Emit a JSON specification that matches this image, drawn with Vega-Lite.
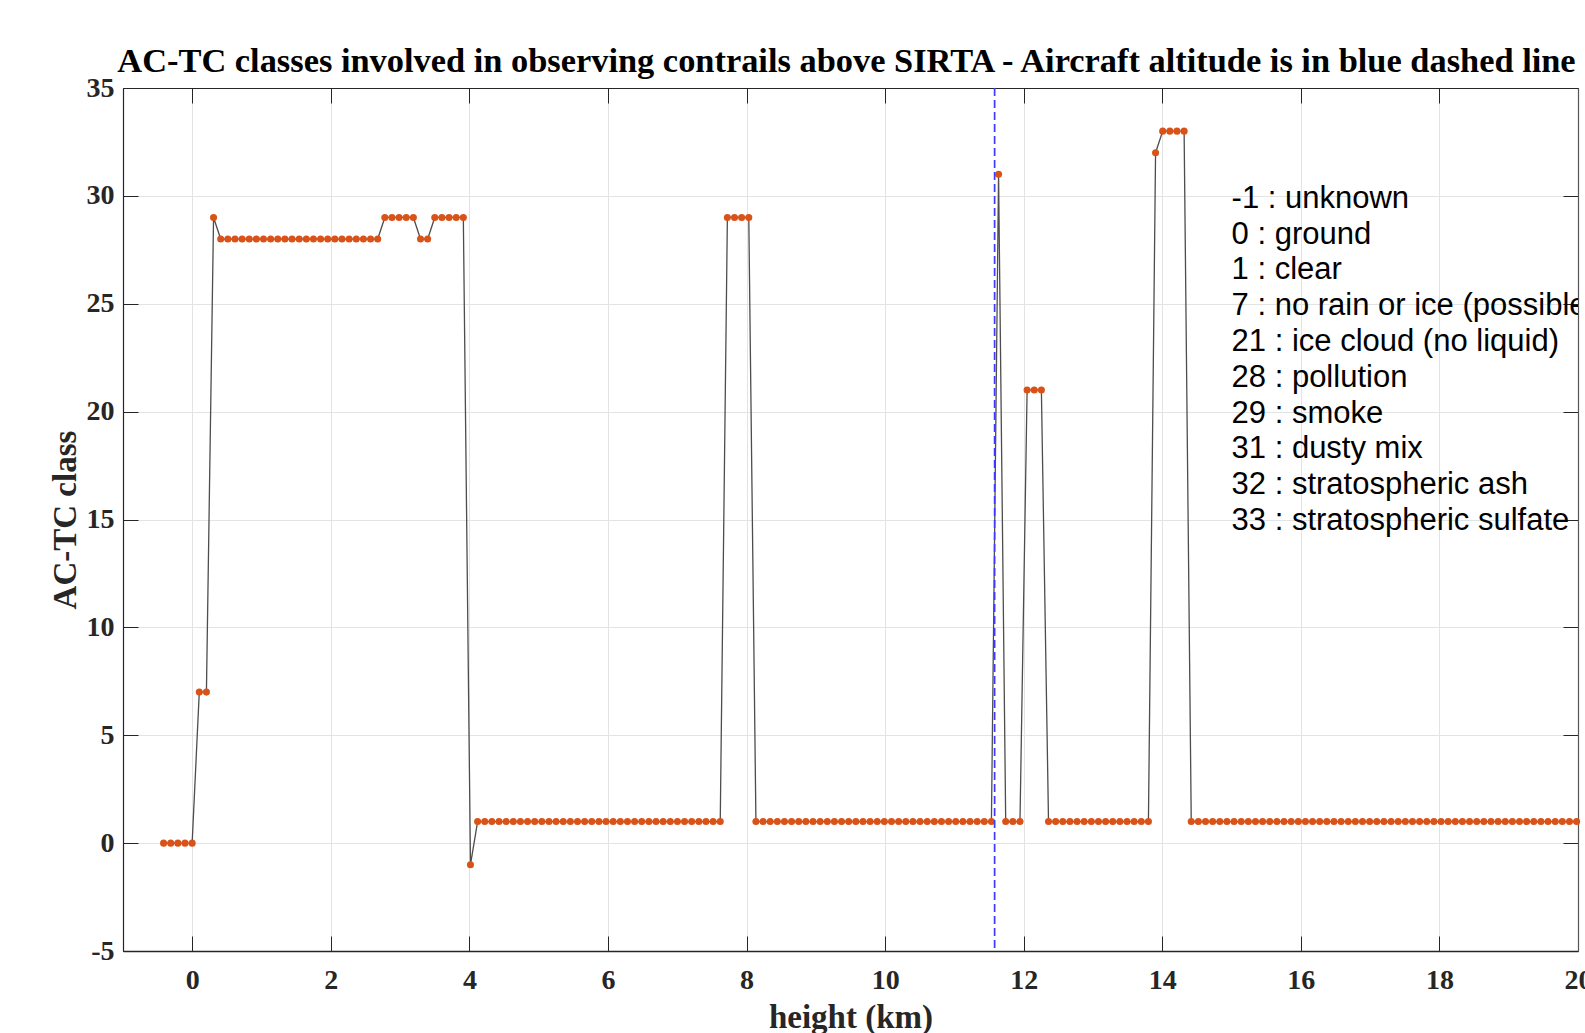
{
  "$schema": "https://vega.github.io/schema/vega-lite/v6.json",
  "width": 1455,
  "height": 863,
  "autosize": {"type": "none"},
  "padding": {"left": 123, "top": 88, "right": 7, "bottom": 82},
  "background": "white",
  "config": {"view": {"stroke": "#262626", "strokeWidth": 1}},
  "title": {
    "text": "AC-TC classes involved in observing contrails above SIRTA - Aircraft altitude is in blue dashed line",
    "font": "Liberation Serif", "fontSize": 34.4, "fontWeight": "bold", "color": "black",
    "anchor": "middle", "baseline": "alphabetic", "offset": 15, "dy": 47, "dx": -4
  },
  "datasets": {
    "profile": [
      {"height_km": -0.414, "class": 0}, {"height_km": -0.311, "class": 0}, {"height_km": -0.208, "class": 0}, {"height_km": -0.105, "class": 0}, {"height_km": -0.002, "class": 0},
      {"height_km": 0.101, "class": 7}, {"height_km": 0.204, "class": 7},
      {"height_km": 0.307, "class": 29},
      {"height_km": 0.410, "class": 28}, {"height_km": 0.513, "class": 28}, {"height_km": 0.616, "class": 28}, {"height_km": 0.719, "class": 28}, {"height_km": 0.822, "class": 28}, {"height_km": 0.925, "class": 28}, {"height_km": 1.028, "class": 28}, {"height_km": 1.131, "class": 28}, {"height_km": 1.234, "class": 28}, {"height_km": 1.337, "class": 28}, {"height_km": 1.440, "class": 28}, {"height_km": 1.543, "class": 28}, {"height_km": 1.646, "class": 28}, {"height_km": 1.749, "class": 28}, {"height_km": 1.852, "class": 28}, {"height_km": 1.955, "class": 28}, {"height_km": 2.058, "class": 28}, {"height_km": 2.161, "class": 28}, {"height_km": 2.264, "class": 28}, {"height_km": 2.367, "class": 28}, {"height_km": 2.470, "class": 28}, {"height_km": 2.573, "class": 28}, {"height_km": 2.676, "class": 28},
      {"height_km": 2.779, "class": 29}, {"height_km": 2.882, "class": 29}, {"height_km": 2.985, "class": 29}, {"height_km": 3.088, "class": 29}, {"height_km": 3.191, "class": 29},
      {"height_km": 3.294, "class": 28}, {"height_km": 3.397, "class": 28},
      {"height_km": 3.500, "class": 29}, {"height_km": 3.603, "class": 29}, {"height_km": 3.706, "class": 29}, {"height_km": 3.809, "class": 29}, {"height_km": 3.912, "class": 29},
      {"height_km": 4.015, "class": -1},
      {"height_km": 4.118, "class": 1}, {"height_km": 4.221, "class": 1}, {"height_km": 4.324, "class": 1}, {"height_km": 4.427, "class": 1}, {"height_km": 4.530, "class": 1}, {"height_km": 4.633, "class": 1}, {"height_km": 4.736, "class": 1}, {"height_km": 4.839, "class": 1}, {"height_km": 4.942, "class": 1}, {"height_km": 5.045, "class": 1}, {"height_km": 5.148, "class": 1}, {"height_km": 5.251, "class": 1}, {"height_km": 5.354, "class": 1}, {"height_km": 5.457, "class": 1}, {"height_km": 5.560, "class": 1}, {"height_km": 5.663, "class": 1}, {"height_km": 5.766, "class": 1}, {"height_km": 5.869, "class": 1}, {"height_km": 5.972, "class": 1}, {"height_km": 6.075, "class": 1}, {"height_km": 6.178, "class": 1}, {"height_km": 6.281, "class": 1}, {"height_km": 6.384, "class": 1}, {"height_km": 6.487, "class": 1}, {"height_km": 6.590, "class": 1}, {"height_km": 6.693, "class": 1}, {"height_km": 6.796, "class": 1}, {"height_km": 6.899, "class": 1}, {"height_km": 7.002, "class": 1}, {"height_km": 7.105, "class": 1}, {"height_km": 7.208, "class": 1}, {"height_km": 7.311, "class": 1}, {"height_km": 7.414, "class": 1}, {"height_km": 7.517, "class": 1}, {"height_km": 7.620, "class": 1},
      {"height_km": 7.723, "class": 29}, {"height_km": 7.826, "class": 29}, {"height_km": 7.929, "class": 29}, {"height_km": 8.032, "class": 29},
      {"height_km": 8.135, "class": 1}, {"height_km": 8.238, "class": 1}, {"height_km": 8.341, "class": 1}, {"height_km": 8.444, "class": 1}, {"height_km": 8.547, "class": 1}, {"height_km": 8.650, "class": 1}, {"height_km": 8.753, "class": 1}, {"height_km": 8.856, "class": 1}, {"height_km": 8.959, "class": 1}, {"height_km": 9.062, "class": 1}, {"height_km": 9.165, "class": 1}, {"height_km": 9.268, "class": 1}, {"height_km": 9.371, "class": 1}, {"height_km": 9.474, "class": 1}, {"height_km": 9.577, "class": 1}, {"height_km": 9.680, "class": 1}, {"height_km": 9.783, "class": 1}, {"height_km": 9.886, "class": 1}, {"height_km": 9.989, "class": 1}, {"height_km": 10.092, "class": 1}, {"height_km": 10.195, "class": 1}, {"height_km": 10.298, "class": 1}, {"height_km": 10.401, "class": 1}, {"height_km": 10.504, "class": 1}, {"height_km": 10.607, "class": 1}, {"height_km": 10.710, "class": 1}, {"height_km": 10.813, "class": 1}, {"height_km": 10.916, "class": 1}, {"height_km": 11.019, "class": 1}, {"height_km": 11.122, "class": 1}, {"height_km": 11.225, "class": 1}, {"height_km": 11.328, "class": 1}, {"height_km": 11.431, "class": 1}, {"height_km": 11.534, "class": 1},
      {"height_km": 11.637, "class": 31},
      {"height_km": 11.740, "class": 1}, {"height_km": 11.843, "class": 1}, {"height_km": 11.946, "class": 1},
      {"height_km": 12.049, "class": 21}, {"height_km": 12.152, "class": 21}, {"height_km": 12.255, "class": 21},
      {"height_km": 12.358, "class": 1}, {"height_km": 12.461, "class": 1}, {"height_km": 12.564, "class": 1}, {"height_km": 12.667, "class": 1}, {"height_km": 12.770, "class": 1}, {"height_km": 12.873, "class": 1}, {"height_km": 12.976, "class": 1}, {"height_km": 13.079, "class": 1}, {"height_km": 13.182, "class": 1}, {"height_km": 13.285, "class": 1}, {"height_km": 13.388, "class": 1}, {"height_km": 13.491, "class": 1}, {"height_km": 13.594, "class": 1}, {"height_km": 13.697, "class": 1}, {"height_km": 13.800, "class": 1},
      {"height_km": 13.903, "class": 32},
      {"height_km": 14.006, "class": 33}, {"height_km": 14.109, "class": 33}, {"height_km": 14.212, "class": 33}, {"height_km": 14.315, "class": 33},
      {"height_km": 14.418, "class": 1}, {"height_km": 14.521, "class": 1}, {"height_km": 14.624, "class": 1}, {"height_km": 14.727, "class": 1}, {"height_km": 14.830, "class": 1}, {"height_km": 14.933, "class": 1}, {"height_km": 15.036, "class": 1}, {"height_km": 15.139, "class": 1}, {"height_km": 15.242, "class": 1}, {"height_km": 15.345, "class": 1}, {"height_km": 15.448, "class": 1}, {"height_km": 15.551, "class": 1}, {"height_km": 15.654, "class": 1}, {"height_km": 15.757, "class": 1}, {"height_km": 15.860, "class": 1}, {"height_km": 15.963, "class": 1}, {"height_km": 16.066, "class": 1}, {"height_km": 16.169, "class": 1}, {"height_km": 16.272, "class": 1}, {"height_km": 16.375, "class": 1}, {"height_km": 16.478, "class": 1}, {"height_km": 16.581, "class": 1}, {"height_km": 16.684, "class": 1}, {"height_km": 16.787, "class": 1}, {"height_km": 16.890, "class": 1}, {"height_km": 16.993, "class": 1}, {"height_km": 17.096, "class": 1}, {"height_km": 17.199, "class": 1}, {"height_km": 17.302, "class": 1}, {"height_km": 17.405, "class": 1}, {"height_km": 17.508, "class": 1}, {"height_km": 17.611, "class": 1}, {"height_km": 17.714, "class": 1}, {"height_km": 17.817, "class": 1}, {"height_km": 17.920, "class": 1}, {"height_km": 18.023, "class": 1}, {"height_km": 18.126, "class": 1}, {"height_km": 18.229, "class": 1}, {"height_km": 18.332, "class": 1}, {"height_km": 18.435, "class": 1}, {"height_km": 18.538, "class": 1}, {"height_km": 18.641, "class": 1}, {"height_km": 18.744, "class": 1}, {"height_km": 18.847, "class": 1}, {"height_km": 18.950, "class": 1}, {"height_km": 19.053, "class": 1}, {"height_km": 19.156, "class": 1}, {"height_km": 19.259, "class": 1}, {"height_km": 19.362, "class": 1}, {"height_km": 19.465, "class": 1}, {"height_km": 19.568, "class": 1}, {"height_km": 19.671, "class": 1}, {"height_km": 19.774, "class": 1}, {"height_km": 19.877, "class": 1}, {"height_km": 19.980, "class": 1}
    ]
  },
  "data": {"name": "profile"},
  "layer": [
    {
      "mark": {"type": "line", "color": "#4d4d4d", "strokeWidth": 1.3},
      "encoding": {
        "x": {
          "field": "height_km", "type": "quantitative",
          "scale": {"domain": [-1, 20], "nice": false, "zero": false},
          "axis": {
            "orient": "bottom", "title": "height (km)", "values": [0, 2, 4, 6, 8, 10, 12, 14, 16, 18, 20],
            "labelExpr": "'' + datum.value",
            "grid": true, "gridColor": "#e3e3e3", "gridWidth": 1,
            "tickSize": -15, "tickColor": "#262626", "tickWidth": 1,
            "domainColor": "#262626", "domainWidth": 1.5,
            "labelFont": "Liberation Serif", "labelFontWeight": "bold", "labelFontSize": 28, "labelColor": "#262626",
            "labelPadding": 30, "labelFlush": false, "labelOverlap": false,
            "titleFont": "Liberation Serif", "titleFontWeight": "bold", "titleFontSize": 33, "titleColor": "#262626", "titlePadding": 7
          }
        },
        "y": {
          "field": "class", "type": "quantitative",
          "scale": {"domain": [-5, 35], "nice": false, "zero": false},
          "axis": {
            "orient": "left", "title": "AC-TC class", "values": [-5, 0, 5, 10, 15, 20, 25, 30, 35],
            "labelExpr": "'' + datum.value",
            "grid": true, "gridColor": "#e3e3e3", "gridWidth": 1,
            "tickSize": -15, "tickColor": "#262626", "tickWidth": 1,
            "domainColor": "#262626", "domainWidth": 1.2,
            "labelFont": "Liberation Serif", "labelFontWeight": "bold", "labelFontSize": 28, "labelColor": "#262626",
            "labelPadding": 24, "labelFlush": false, "labelOverlap": false,
            "titleFont": "Liberation Serif", "titleFontWeight": "bold", "titleFontSize": 33, "titleColor": "#262626", "titlePadding": 4
          }
        }
      }
    },
    {
      "mark": {"type": "point", "filled": true, "color": "#D95319", "opacity": 1, "size": 50},
      "encoding": {
        "x": {"field": "height_km", "type": "quantitative", "axis": null},
        "y": {"field": "class", "type": "quantitative", "axis": null}
      }
    },
    {
      "data": {"values": [{}]},
      "mark": {"type": "rule", "color": "#3b3bff", "strokeDash": [8, 4], "strokeWidth": 1.7},
      "encoding": {"x": {"datum": 11.58, "type": "quantitative", "axis": null}}
    },
    {
      "data": {"values": [{}]},
      "mark": {
        "type": "text", "clip": true, "align": "left", "baseline": "alphabetic",
        "font": "Liberation Sans", "fontSize": 31, "color": "black", "lineHeight": 35.8,
        "text": ["-1 : unknown", "0 : ground", "1 : clear", "7 : no rain or ice (possible liquid)", "21 : ice cloud (no liquid)", "28 : pollution", "29 : smoke", "31 : dusty mix", "32 : stratospheric ash", "33 : stratospheric sulfate"]
      },
      "encoding": {
        "x": {"datum": 15, "type": "quantitative", "axis": null},
        "y": {"datum": 29.45, "type": "quantitative", "axis": null}
      }
    },
    {
      "mark": {"type": "point", "opacity": 0},
      "encoding": {
        "x": {
          "field": "height_km", "type": "quantitative",
          "axis": {"orient": "top", "title": null, "labels": false, "grid": false, "values": [0, 2, 4, 6, 8, 10, 12, 14, 16, 18, 20], "tickSize": -15, "tickColor": "#262626", "domainColor": "#262626", "domainWidth": 1.2}
        },
        "y": {
          "field": "class", "type": "quantitative",
          "axis": {"orient": "right", "title": null, "labels": false, "grid": false, "values": [-5, 0, 5, 10, 15, 20, 25, 30, 35], "tickSize": -15, "tickColor": "#262626", "domainColor": "#555555", "domainWidth": 1.2}
        }
      }
    }
  ],
  "resolve": {"axis": {"x": "independent", "y": "independent"}}
}
